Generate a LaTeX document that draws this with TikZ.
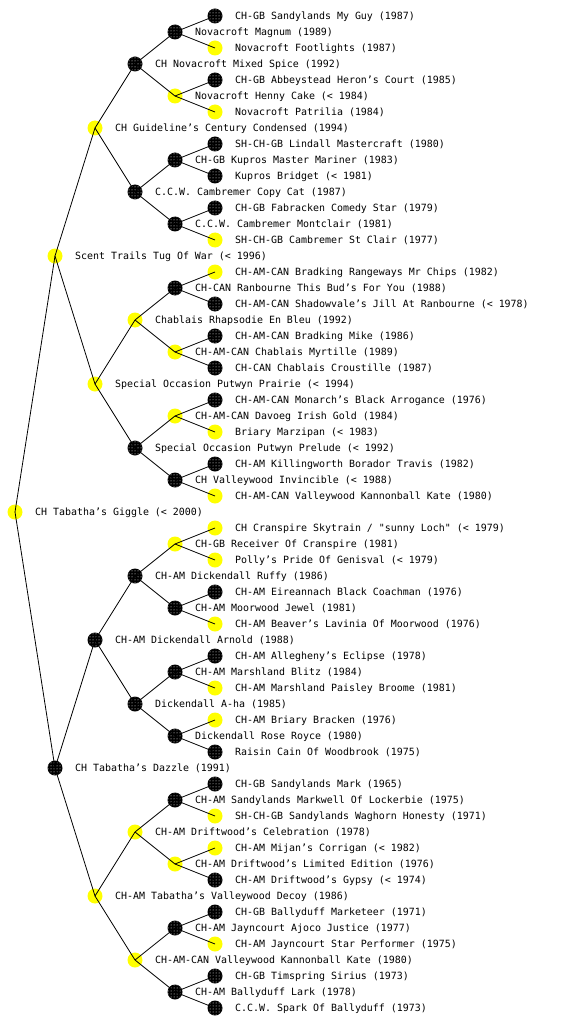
\documentclass[tikz,border=0pt]{standalone}
\usepackage{fontspec}
\newfontfamily\pedfont{DejaVu Sans Mono}
\usetikzlibrary{patterns}
\definecolor{dogyellow}{HTML}{FFFF00}
\tikzset{
  dog/.style={circle, minimum size=15pt, inner sep=0pt},
  bk/.style={dog, fill=black, postaction={pattern=dots, pattern color=white}},
  yl/.style={dog, fill=dogyellow},
  nm/.style={font=\pedfont\fontsize{9.95}{10}\selectfont, inner sep=0pt, anchor=base west, text=black},
  link/.style={line width=0.8pt, draw=black},
}

\begin{document}
\begin{tikzpicture}[x=1pt, y=-1pt]
  \useasboundingbox (0,0) rectangle (560,1024);
  % k = place in the pedigree: sire of k is 2k, dam is 2k+1
  \foreach \k/\c/\t in {1/yl/{CH Tabatha’s Giggle (< 2000)},
      2/yl/{Scent Trails Tug Of War (< 1996)},
      3/bk/{CH Tabatha’s Dazzle (1991)},
      4/yl/{CH Guideline’s Century Condensed (1994)},
      5/yl/{Special Occasion Putwyn Prairie (< 1994)},
      6/bk/{CH-AM Dickendall Arnold (1988)},
      7/yl/{CH-AM Tabatha’s Valleywood Decoy (1986)},
      8/bk/{CH Novacroft Mixed Spice (1992)},
      9/bk/{C.C.W. Cambremer Copy Cat (1987)},
      10/yl/{Chablais Rhapsodie En Bleu (1992)},
      11/bk/{Special Occasion Putwyn Prelude (< 1992)},
      12/bk/{CH-AM Dickendall Ruffy (1986)},
      13/bk/{Dickendall A-ha (1985)},
      14/yl/{CH-AM Driftwood’s Celebration (1978)},
      15/yl/{CH-AM-CAN Valleywood Kannonball Kate (1980)},
      16/bk/{Novacroft Magnum (1989)},
      17/yl/{Novacroft Henny Cake (< 1984)},
      18/bk/{CH-GB Kupros Master Mariner (1983)},
      19/bk/{C.C.W. Cambremer Montclair (1981)},
      20/bk/{CH-CAN Ranbourne This Bud’s For You (1988)},
      21/yl/{CH-AM-CAN Chablais Myrtille (1989)},
      22/yl/{CH-AM-CAN Davoeg Irish Gold (1984)},
      23/bk/{CH Valleywood Invincible (< 1988)},
      24/yl/{CH-GB Receiver Of Cranspire (1981)},
      25/bk/{CH-AM Moorwood Jewel (1981)},
      26/bk/{CH-AM Marshland Blitz (1984)},
      27/bk/{Dickendall Rose Royce (1980)},
      28/bk/{CH-AM Sandylands Markwell Of Lockerbie (1975)},
      29/yl/{CH-AM Driftwood’s Limited Edition (1976)},
      30/bk/{CH-AM Jayncourt Ajoco Justice (1977)},
      31/bk/{CH-AM Ballyduff Lark (1978)},
      32/bk/{CH-GB Sandylands My Guy (1987)},
      33/yl/{Novacroft Footlights (1987)},
      34/bk/{CH-GB Abbeystead Heron’s Court (1985)},
      35/yl/{Novacroft Patrilia (1984)},
      36/bk/{SH-CH-GB Lindall Mastercraft (1980)},
      37/bk/{Kupros Bridget (< 1981)},
      38/bk/{CH-GB Fabracken Comedy Star (1979)},
      39/yl/{SH-CH-GB Cambremer St Clair (1977)},
      40/yl/{CH-AM-CAN Bradking Rangeways Mr Chips (1982)},
      41/bk/{CH-AM-CAN Shadowvale’s Jill At Ranbourne (< 1978)},
      42/bk/{CH-AM-CAN Bradking Mike (1986)},
      43/bk/{CH-CAN Chablais Croustille (1987)},
      44/bk/{CH-AM-CAN Monarch’s Black Arrogance (1976)},
      45/yl/{Briary Marzipan (< 1983)},
      46/bk/{CH-AM Killingworth Borador Travis (1982)},
      47/yl/{CH-AM-CAN Valleywood Kannonball Kate (1980)},
      48/yl/{CH Cranspire Skytrain / "sunny Loch" (< 1979)},
      49/yl/{Polly’s Pride Of Genisval (< 1979)},
      50/bk/{CH-AM Eireannach Black Coachman (1976)},
      51/yl/{CH-AM Beaver’s Lavinia Of Moorwood (1976)},
      52/bk/{CH-AM Allegheny’s Eclipse (1978)},
      53/yl/{CH-AM Marshland Paisley Broome (1981)},
      54/yl/{CH-AM Briary Bracken (1976)},
      55/bk/{Raisin Cain Of Woodbrook (1975)},
      56/bk/{CH-GB Sandylands Mark (1965)},
      57/yl/{SH-CH-GB Sandylands Waghorn Honesty (1971)},
      58/yl/{CH-AM Mijan’s Corrigan (< 1982)},
      59/bk/{CH-AM Driftwood’s Gypsy (< 1974)},
      60/bk/{CH-GB Ballyduff Marketeer (1971)},
      61/yl/{CH-AM Jayncourt Star Performer (1975)},
      62/bk/{CH-GB Timspring Sirius (1973)},
      63/bk/{C.C.W. Spark Of Ballyduff (1973)}} {
    \pgfmathtruncatemacro\g{floor(ln(\k)/ln(2)+0.001)}
    \pgfmathsetmacro\py{(2*(\k-2^\g)+1)*(512/2^\g)}
    \node[\c] (p\k) at ({15+40*\g},\py) {};
    \node[nm] (t\k) at ({35+40*\g},\py+3.5) {\t};
  }
  \foreach \k in {2,...,63} {
    \pgfmathtruncatemacro\u{floor(\k/2)}
    \draw[link] (p\u.center) -- (p\k.center);
  }
\end{tikzpicture}
\end{document}
